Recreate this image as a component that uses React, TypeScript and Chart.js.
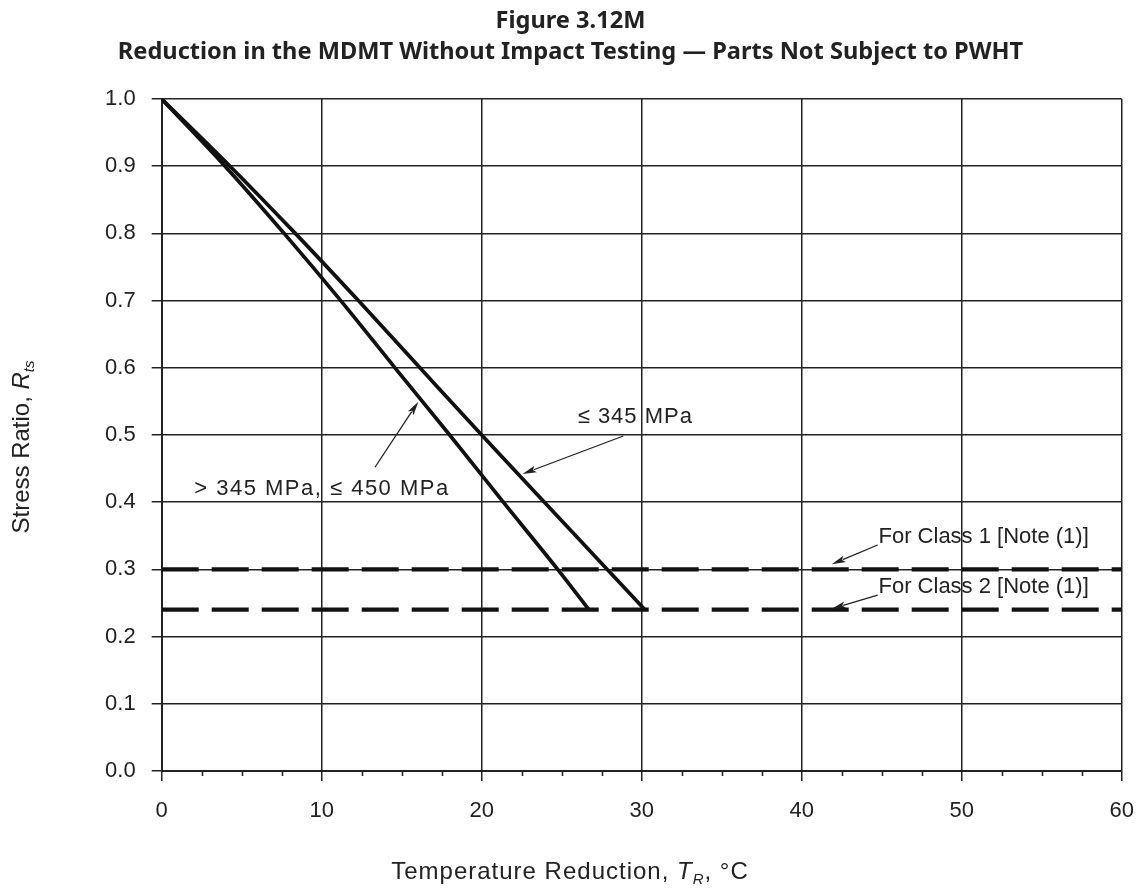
import React, { useEffect, useRef } from 'react';
import { Chart, registerables } from 'chart.js';

Chart.register(...registerables);

// ---- data ----
const titleLines = [
  'Figure 3.12M',
  'Reduction in the MDMT Without Impact Testing \u2014 Parts Not Subject to PWHT',
];
const xMin = 0;
const xMax = 60;
const xStep = 10;
const xMinorStep = 2.5;
const yMin = 0;
const yMax = 1;
const yStep = 0.1;

// "<= 345 MPa" curve
const upperX = [0, 4.27, 8.35, 12.29, 16.14, 20.0, 23.92, 27.85, 30.2];
const upperY = [1.0, 0.9, 0.8, 0.7, 0.6, 0.5, 0.4, 0.3, 0.24];
// "> 345 MPa, <= 450 MPa" curve
const lowerX = [0, 3.96, 7.65, 11.19, 14.58, 18.0, 21.35, 24.75, 26.7];
const lowerY = [1.0, 0.9, 0.8, 0.7, 0.6, 0.5, 0.4, 0.3, 0.24];
// dashed class limits
const class1Y = 0.3;
const class2Y = 0.24;

// annotations (data coordinates)
const labelTexts = ['\u2264 345 MPa', '> 345 MPa, \u2264 450 MPa', 'For Class 1 [Note (1)]', 'For Class 2 [Note (1)]'];
const labelX = [26.0, 18.0, 44.8, 44.8];
const labelY = [0.527, 0.42, 0.349, 0.274];
const labelAlign: CanvasTextAlign[] = ['left', 'right', 'left', 'left'];
const labelSpacing = ['1px', '1.5px', '0px', '0px'];
const arrowFromX = [28.85, 13.33, 44.75, 44.75];
const arrowFromY = [0.4985, 0.452, 0.3363, 0.2619];
const arrowToX = [22.55, 16.04, 41.875, 41.875];
const arrowToY = [0.442, 0.5496, 0.3076, 0.2415];

const FONT = '"Liberation Sans", Arial, Helvetica, sans-serif';
const INK = '#222';

const toPts = (xs: number[], ys: number[]) => xs.map((x, i) => ({ x, y: ys[i] }));

function drawRich(ctx: CanvasRenderingContext2D, parts: { t: string; f: string; dy: number }[], cx: number, baseY: number) {
  let total = 0;
  for (const p of parts) {
    ctx.font = p.f;
    total += ctx.measureText(p.t).width;
  }
  let x = cx - total / 2;
  ctx.textAlign = 'left';
  ctx.textBaseline = 'alphabetic';
  for (const p of parts) {
    ctx.font = p.f;
    ctx.fillText(p.t, x, baseY + p.dy);
    x += ctx.measureText(p.t).width;
  }
}

const overlay = {
  id: 'overlay',
  afterDatasetsDraw(chart: any) {
    const { ctx, scales } = chart;
    const xs = scales.x;
    const ys = scales.y;
    ctx.save();
    ctx.strokeStyle = INK;
    ctx.fillStyle = INK;

    // minor ticks along the bottom axis
    ctx.lineWidth = 1.5;
    for (let v = xMin + xMinorStep; v < xMax; v += xMinorStep) {
      if (Math.abs(v / xStep - Math.round(v / xStep)) < 1e-6) continue;
      const px = Math.round(xs.getPixelForValue(v)) + 0.5;
      ctx.beginPath();
      ctx.moveTo(px, ys.bottom);
      ctx.lineTo(px, ys.bottom + 5);
      ctx.stroke();
    }

    // arrows
    for (let i = 0; i < arrowFromX.length; i++) {
      const x1 = xs.getPixelForValue(arrowFromX[i]);
      const y1 = ys.getPixelForValue(arrowFromY[i]);
      const x2 = xs.getPixelForValue(arrowToX[i]);
      const y2 = ys.getPixelForValue(arrowToY[i]);
      const a = Math.atan2(y2 - y1, x2 - x1);
      const L = 14;
      const W = 3.4;
      ctx.lineWidth = 1.3;
      ctx.beginPath();
      ctx.moveTo(x1, y1);
      ctx.lineTo(x2 - Math.cos(a) * (L - 2), y2 - Math.sin(a) * (L - 2));
      ctx.stroke();
      ctx.beginPath();
      ctx.moveTo(x2, y2);
      ctx.lineTo(x2 - Math.cos(a) * L - Math.sin(a) * W, y2 - Math.sin(a) * L + Math.cos(a) * W);
      ctx.lineTo(x2 - Math.cos(a) * (L - 3), y2 - Math.sin(a) * (L - 3));
      ctx.lineTo(x2 - Math.cos(a) * L + Math.sin(a) * W, y2 - Math.sin(a) * L - Math.cos(a) * W);
      ctx.closePath();
      ctx.fill();
    }

    // labels
    ctx.font = `22px ${FONT}`;
    ctx.textBaseline = 'middle';
    for (let i = 0; i < labelTexts.length; i++) {
      ctx.letterSpacing = labelSpacing[i];
      ctx.textAlign = labelAlign[i];
      ctx.fillText(labelTexts[i], xs.getPixelForValue(labelX[i]), ys.getPixelForValue(labelY[i]));
    }
    ctx.letterSpacing = '0px';

    // main title
    ctx.textAlign = 'center';
    ctx.textBaseline = 'alphabetic';
    ctx.font = `bold 23.6px "Noto Sans", ${FONT}`;
    ctx.fillText(titleLines[0], chart.width / 2, 28);
    ctx.fillText(titleLines[1], chart.width / 2, 59);

    // x axis title
    const reg = `24px ${FONT}`;
    const ita = `italic 24px ${FONT}`;
    const sub = `italic 15px ${FONT}`;
    ctx.letterSpacing = '1px';
    drawRich(ctx, [
      { t: 'Temperature Reduction, ', f: reg, dy: 0 },
      { t: 'T', f: ita, dy: 0 },
      { t: 'R', f: sub, dy: 5 },
      { t: ', \u00b0C', f: reg, dy: 0 },
    ], 570, 879);
    ctx.letterSpacing = '0px';

    // y axis title
    ctx.save();
    ctx.translate(28.5, 447);
    ctx.rotate(-Math.PI / 2);
    drawRich(ctx, [
      { t: 'Stress Ratio, ', f: reg, dy: 0 },
      { t: 'R', f: ita, dy: 0 },
      { t: 'ts', f: sub, dy: 5 },
    ], 0, 0);
    ctx.restore();

    ctx.restore();
  },
};

export default function App() {
  const ref = useRef<HTMLCanvasElement>(null);
  useEffect(() => {
    const canvas = ref.current;
    if (!canvas) return;
    Chart.defaults.font.family = FONT;
    const chart = new Chart(canvas, {
      type: 'line',
      data: {
        datasets: [
          { data: toPts(upperX, upperY), borderColor: '#111', borderWidth: 3.7, pointRadius: 0, cubicInterpolationMode: 'monotone', fill: false },
          { data: toPts(lowerX, lowerY), borderColor: '#111', borderWidth: 3.7, pointRadius: 0, cubicInterpolationMode: 'monotone', fill: false },
          { data: toPts([xMin, xMax], [class1Y, class1Y]), borderColor: '#111', borderWidth: 4.2, borderDash: [37, 13], pointRadius: 0, fill: false },
          { data: toPts([xMin, xMax], [class2Y, class2Y]), borderColor: '#111', borderWidth: 4.2, borderDash: [37, 13], pointRadius: 0, fill: false },
        ],
      },
      options: {
        responsive: false,
        animation: false,
        layout: { padding: { top: 99, right: 19.3, left: 0, bottom: 0 } },
        plugins: {
          legend: { display: false },
          tooltip: { enabled: false },
          title: { display: false },
        },
        scales: {
          x: {
            type: 'linear',
            min: xMin,
            max: xMax,
            ticks: { stepSize: xStep, padding: 17, color: INK, font: { size: 22, family: FONT } },
            grid: { color: INK, lineWidth: 1.5, tickLength: 10 },
            border: { color: INK, width: 2 },
            afterFit: (s: any) => {
              s.height = 117;
              s.paddingLeft = 0;
              s.paddingRight = 0;
            },
          },
          y: {
            type: 'linear',
            min: yMin,
            max: yMax,
            ticks: {
              stepSize: yStep,
              padding: 16,
              color: INK,
              font: { size: 22, family: FONT },
              callback: (v: any) => Number(v).toFixed(1),
            },
            grid: { color: INK, lineWidth: 1.5, tickLength: 10 },
            border: { color: INK, width: 2 },
            afterFit: (s: any) => {
              s.width = 161.7;
              s.paddingTop = 0;
              s.paddingBottom = 0;
            },
          },
        },
      },
      plugins: [overlay],
    });
    return () => chart.destroy();
  }, []);
  return (
    <div style={{ position: 'absolute', left: 0, top: 0, width: 1141, height: 888 }}>
      <canvas ref={ref} width={1141} height={888} style={{ display: 'block' }} />
    </div>
  );
}
